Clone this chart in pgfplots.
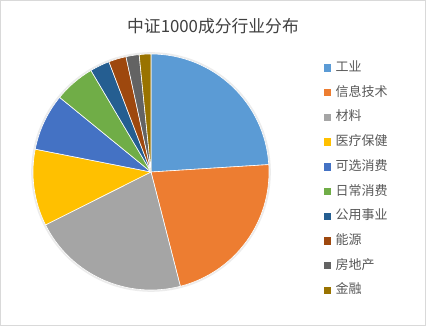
\documentclass[border=0pt]{standalone}
\usepackage{pgfplots}
\pgfplotsset{compat=1.18}
\usepackage{pgfplotstable}
\usepackage{fontspec}
\newfontfamily\cjk{Noto Sans CJK SC}
\definecolor{c0}{HTML}{5B9BD5}
\definecolor{c1}{HTML}{ED7D31}
\definecolor{c2}{HTML}{A5A5A5}
\definecolor{c3}{HTML}{FFC000}
\definecolor{c4}{HTML}{4472C4}
\definecolor{c5}{HTML}{70AD47}
\definecolor{c6}{HTML}{255E91}
\definecolor{c7}{HTML}{9E480E}
\definecolor{c8}{HTML}{636363}
\definecolor{c9}{HTML}{997300}
\definecolor{txt}{HTML}{595959}
\definecolor{ttl}{HTML}{404040}
\pgfplotstableread{
idx value
0 24.0
1 22.0
2 21.6
3 10.5
4 7.8
5 5.6
6 2.7
7 2.4
8 1.8
9 1.6
}\piedata
\pgfplotsset{sqleg/.style={legend image code/.code={\fill[##1, draw=none] (0pt,-3.7pt) rectangle (7.4pt,3.7pt);}}}
\begin{document}
\begin{tikzpicture}[x=1pt,y=1pt]
\useasboundingbox (0,0) rectangle (426,326);
\fill[white] (0,0) rectangle (426,326);
\draw[gray!30, line width=1pt] (0.5,0.5) rectangle (425.5,325.5);
\node[font=\cjk\fontsize{16.8pt}{16.8pt}\selectfont, text=ttl] at (213,300) {中证1000成分行业分布};
\begin{axis}[
  at={(151pt,154pt)}, anchor=center,
  width=236pt, height=236pt, scale only axis,
  xmin=-1, xmax=1, ymin=-1, ymax=1,
  hide axis, clip=false,
  legend style={
    at={(1.233,0.968)}, anchor=north west,
    draw=none, fill=none, inner sep=0pt, outer sep=0pt,
    row sep=11.7pt,
    font=\cjk\fontsize{13pt}{13pt}\selectfont, text=txt,
    nodes={inner sep=0pt, text height=10pt, text depth=3pt},
    /tikz/every odd column/.append style={column sep=4.3pt},
  },
  legend cell align=left,
]
\fill[gray!15] (axis cs:0,0) circle[radius=119.8pt];
\def\cum{0}
\pgfplotsforeachungrouped \i in {0,...,9}{
  \pgfplotstablegetelem{\i}{value}\of\piedata
  \let\v=\pgfplotsretval
  \pgfmathsetmacro\a{90-\cum*3.6}
  \pgfmathsetmacro\b{90-(\cum+\v)*3.6}
  \edef\temp{\noexpand\fill[c\i, draw=white, line width=0.6pt, line join=round] (axis cs:0,0) -- ({cos(\a)},{sin(\a)}) arc[start angle=\a, end angle=\b, radius=118pt] -- cycle;}
  \temp
  \pgfmathsetmacro\cum{\cum+\v}
}
\addlegendimage{sqleg, fill=c0}\addlegendentry{工业}
\addlegendimage{sqleg, fill=c1}\addlegendentry{信息技术}
\addlegendimage{sqleg, fill=c2}\addlegendentry{材料}
\addlegendimage{sqleg, fill=c3}\addlegendentry{医疗保健}
\addlegendimage{sqleg, fill=c4}\addlegendentry{可选消费}
\addlegendimage{sqleg, fill=c5}\addlegendentry{日常消费}
\addlegendimage{sqleg, fill=c6}\addlegendentry{公用事业}
\addlegendimage{sqleg, fill=c7}\addlegendentry{能源}
\addlegendimage{sqleg, fill=c8}\addlegendentry{房地产}
\addlegendimage{sqleg, fill=c9}\addlegendentry{金融}
\end{axis}
\end{tikzpicture}
\end{document}
